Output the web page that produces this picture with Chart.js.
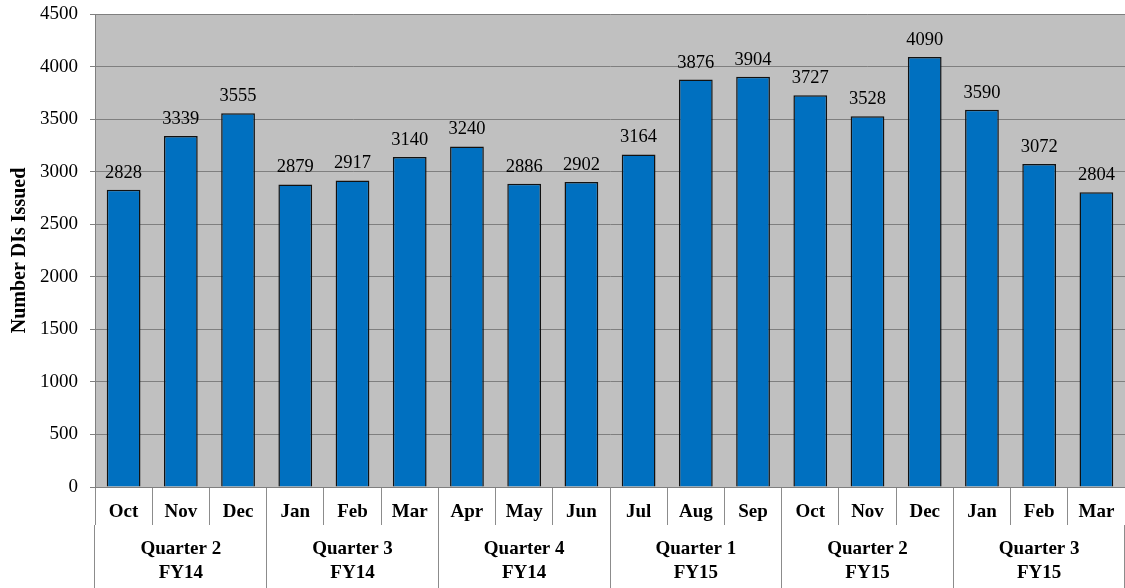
<!DOCTYPE html>
<html>
<head>
<meta charset="utf-8">
<script src="https://cdn.jsdelivr.net/npm/chart.js@4/dist/chart.umd.min.js"></script>
<style>
  body { margin: 0; background: #fff; }
  #wrap { width: 1125px; height: 588px; position: relative; }
</style>
</head>
<body>
<div id="wrap"><canvas id="grafica"></canvas></div>
<script>
const meses = ['Oct', 'Nov', 'Dec', 'Jan', 'Feb', 'Mar', 'Apr', 'May', 'Jun',
               'Jul', 'Aug', 'Sep', 'Oct', 'Nov', 'Dec', 'Jan', 'Feb', 'Mar'];
const trimestres = [['Quarter 2', 'FY14'], ['Quarter 3', 'FY14'], ['Quarter 4', 'FY14'],
                    ['Quarter 1', 'FY15'], ['Quarter 2', 'FY15'], ['Quarter 3', 'FY15']];
const emitidos = [2828, 3339, 3555, 2879, 2917, 3140, 3240, 2886, 2902,
                  3164, 3876, 3904, 3727, 3528, 4090, 3590, 3072, 2804];
const ticksY = [0, 500, 1000, 1500, 2000, 2500, 3000, 3500, 4000, 4500];

const serif = 'Liberation Serif';
const lineaGris = '#7f7f7f';

// fondo gris del area de la grafica
const fondoPlugin = {
    id: 'fondo',
    beforeDraw(chart) {
        const { ctx, chartArea: a } = chart;
        ctx.save();
        ctx.fillStyle = '#c0c0c0';
        ctx.fillRect(a.left, a.top, a.right - a.left, a.bottom - a.top);
        ctx.restore();
    }
};

// valores arriba de cada barra
const etiquetasPlugin = {
    id: 'etiquetas',
    afterDatasetsDraw(chart) {
        const ctx = chart.ctx;
        const meta = chart.getDatasetMeta(0);
        ctx.save();
        ctx.font = '18.5px "' + serif + '"';
        ctx.fillStyle = '#000';
        ctx.textAlign = 'center';
        ctx.textBaseline = 'alphabetic';
        meta.data.forEach((bar, i) => {
            ctx.fillText(String(emitidos[i]), bar.x, bar.y - 12);
        });
        ctx.restore();
    }
};

const ctx = document.getElementById('grafica').getContext('2d');
const grafica = new Chart(ctx, {
    type: 'bar',
    data: {
        labels: meses,
        datasets: [{
            label: 'Number DIs Issued',
            data: emitidos,
            backgroundColor: '#0070c0',
            borderColor: '#111',
            borderWidth: 1.5,
            categoryPercentage: 1,
            barPercentage: 0.59
        }]
    },
    options: {
        responsive: true,
        maintainAspectRatio: false,
        animation: false,
        layout: { padding: { top: 14, right: 0, left: 0, bottom: 0 } },
        plugins: {
            legend: { display: false },
            tooltip: { enabled: false }
        },
        scales: {
            y: {
                min: 0,
                max: 4500,
                afterBuildTicks: s => { s.ticks = ticksY.map(v => ({ value: v })); },
                afterFit: s => { s.width = 95; s.paddingTop = 0; s.paddingBottom = 0; },
                ticks: {
                    color: '#000',
                    padding: 12,
                    callback: v => String(v),
                    font: { family: serif, size: 19 }
                },
                grid: { color: lineaGris, lineWidth: 1, tickLength: 5 },
                border: { display: true, color: lineaGris, width: 1 },
                title: {
                    display: true,
                    text: 'Number DIs Issued',
                    color: '#000',
                    padding: { top: 8, bottom: 0 },
                    font: { family: serif, size: 20, weight: 'bold' }
                }
            },
            x: {
                position: 'bottom',
                weight: 0,
                offset: true,
                afterFit: s => { s.height = 38; },
                ticks: {
                    color: '#000',
                    autoSkip: false,
                    maxRotation: 0,
                    padding: -24,
                    font: { family: serif, size: 19, weight: 'bold' }
                },
                grid: {
                    offset: true,
                    drawOnChartArea: false,
                    tickLength: 38,
                    color: '#8c8c8c'
                },
                border: { display: true, color: lineaGris, width: 1 }
            },
            x2: {
                type: 'category',
                position: 'bottom',
                weight: 1,
                labels: trimestres,
                offset: true,
                afterFit: s => { s.height = 63; },
                ticks: {
                    color: '#000',
                    autoSkip: false,
                    maxRotation: 0,
                    padding: -50,
                    font: { family: serif, size: 19, weight: 'bold', lineHeight: 1.22 }
                },
                grid: {
                    offset: true,
                    drawOnChartArea: false,
                    tickLength: 63,
                    color: '#8c8c8c'
                },
                border: { display: false }
            }
        }
    },
    plugins: [fondoPlugin, etiquetasPlugin]
});
</script>
</body>
</html>
